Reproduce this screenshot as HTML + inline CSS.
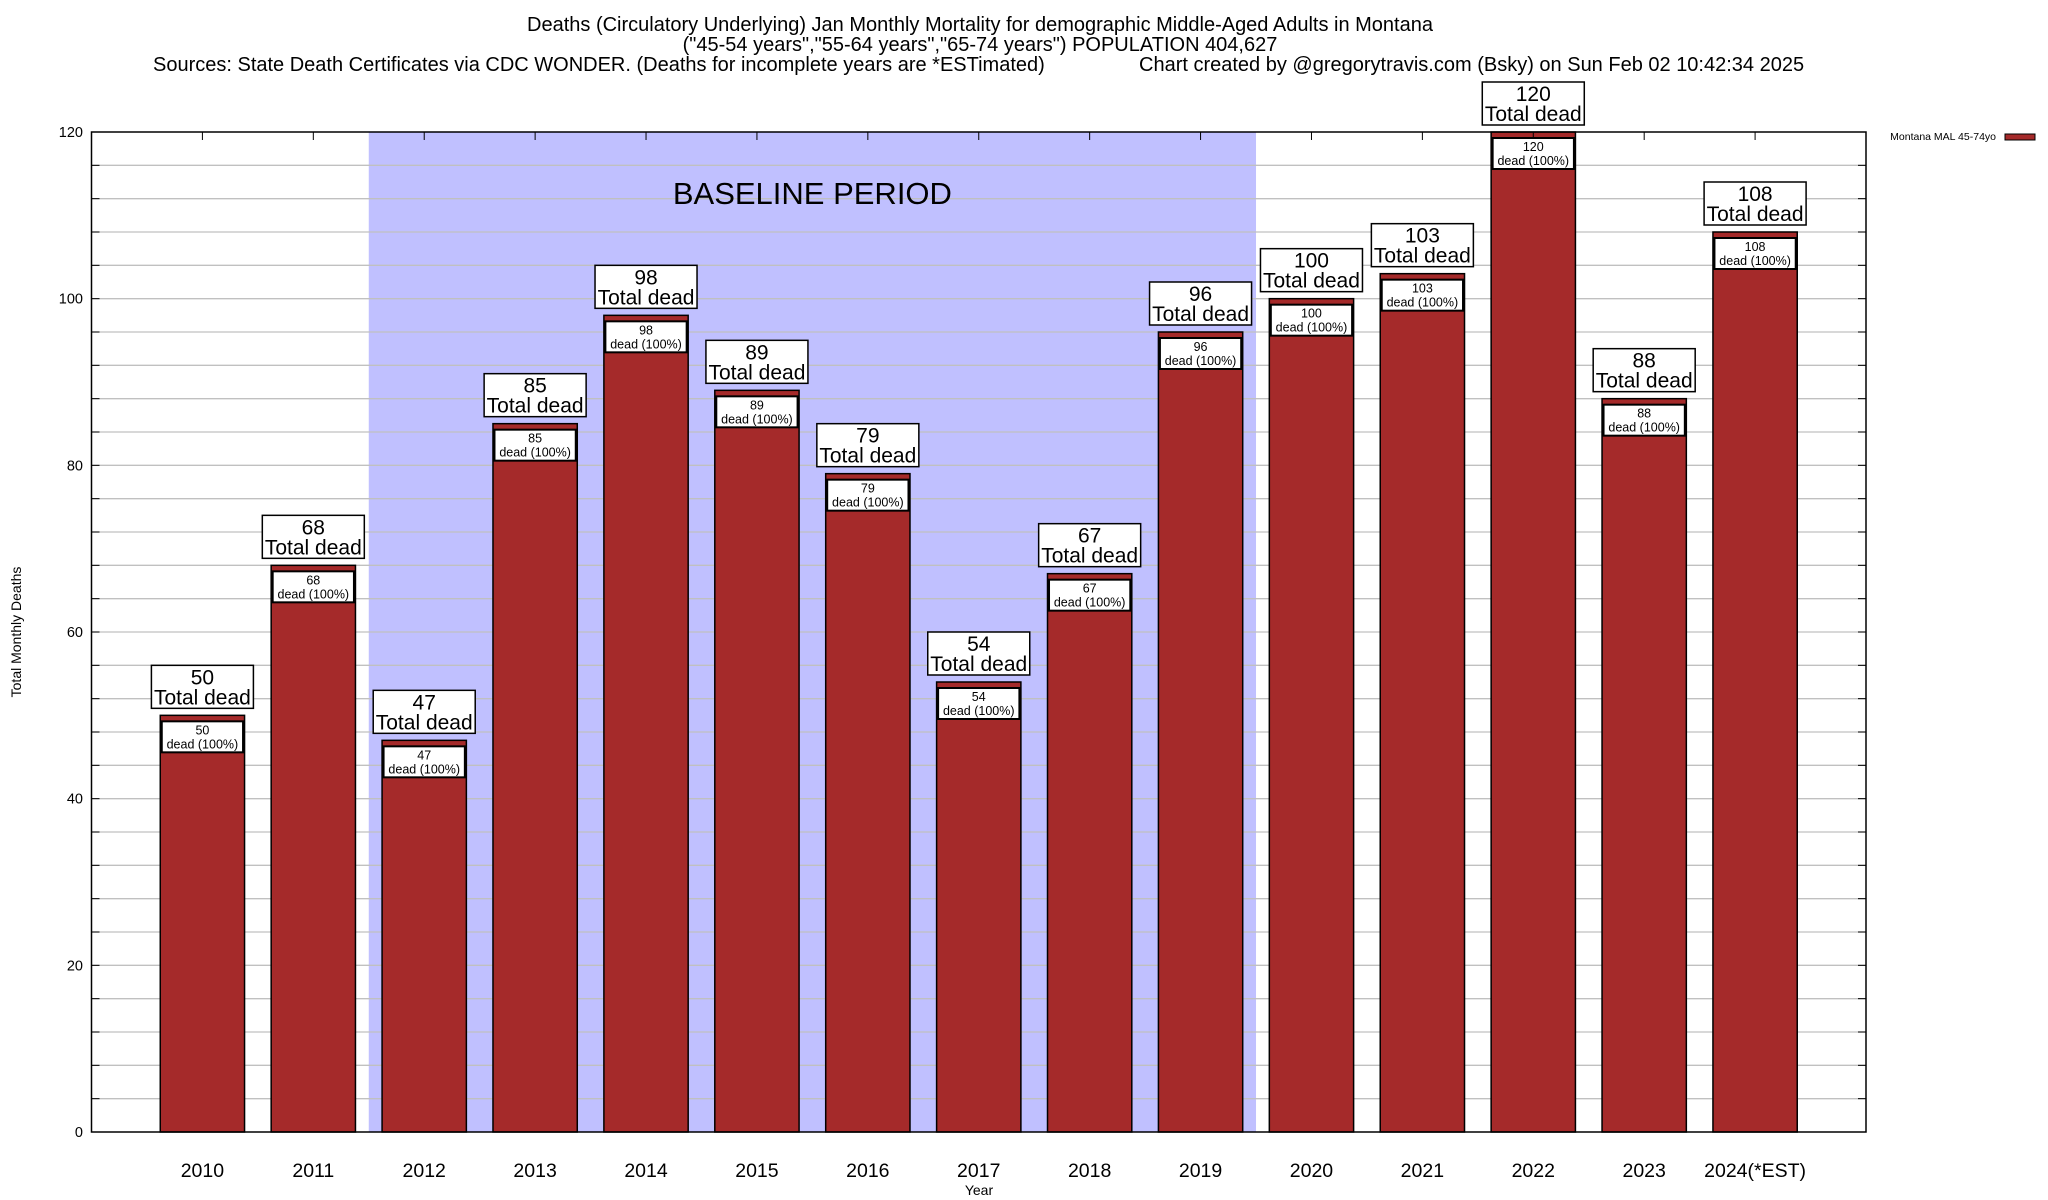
<!DOCTYPE html>
<html><head><meta charset="utf-8"><style>
html,body{margin:0;padding:0;background:#fff}
svg{display:block;font-family:"Liberation Sans",Arial,sans-serif}
</style></head><body>
<svg id="chart" width="2048" height="1200" viewBox="0 0 2048 1200">
<g font-size="20" text-anchor="middle">
<text x="980" y="31">Deaths (Circulatory Underlying) Jan Monthly Mortality for demographic Middle-Aged Adults in Montana</text>
<text x="980" y="51">("45-54 years","55-64 years","65-74 years") POPULATION 404,627</text>
<text x="153" y="71" text-anchor="start">Sources: State Death Certificates via CDC WONDER. (Deaths for incomplete years are *ESTimated)</text>
<text x="1139" y="71" text-anchor="start">Chart created by @gregorytravis.com (Bsky) on Sun Feb 02 10:42:34 2025</text>
</g>
<g id="plot"></g>
<g>
<text x="1996" y="140" font-size="10.5" text-anchor="end">Montana MAL 45-74yo</text>
<rect x="2005" y="134" width="30" height="6" fill="#a52a2a" stroke="#000" stroke-width="1"/>
</g>
</svg>
<script>
const categories = ["2010","2011","2012","2013","2014","2015","2016","2017","2018","2019","2020","2021","2022","2023","2024(*EST)"];
const values = [50,68,47,85,98,89,79,54,67,96,100,103,120,88,108];
const yTicks = [0,20,40,60,80,100,120];
const baselineRange = [1.5, 9.5];

const NS = "http://www.w3.org/2000/svg";
const L = 91.5, R = 1866, T = 132, B = 1132;
const yMax = 120;
const xMin = -1, xMax = 15;
const xs = i => L + (i - xMin) * (R - L) / (xMax - xMin);
const ys = v => B - v * (B - T) / yMax;
const unit = (R - L) / (xMax - xMin);
const plot = document.getElementById('plot');
function mk(tag, attrs, parent) {
  const e = document.createElementNS(NS, tag);
  for (const k in attrs) e.setAttribute(k, attrs[k]);
  (parent || plot).appendChild(e);
  return e;
}
const bl = mk('rect', {x: xs(baselineRange[0]), y: T, width: xs(baselineRange[1]) - xs(baselineRange[0]), height: B - T, fill: '#c0c0ff'});


for (let v = 4; v < yMax; v += 4) {
  const g = mk('line', {x1: L, x2: R, y1: ys(v), y2: ys(v), stroke: '#c0c0c0', 'stroke-width': 1.3});
  
  
  const t1 = mk('line', {x1: L, x2: L + 8, y1: ys(v), y2: ys(v), stroke: '#000'});
  
  
  const t2 = mk('line', {x1: R - 8, x2: R, y1: ys(v), y2: ys(v), stroke: '#000'});
  
  
}
const bt = mk('text', {x: (xs(baselineRange[0]) + xs(baselineRange[1])) / 2, y: 204, 'font-size': 31, 'text-anchor': 'middle'});
bt.textContent = 'BASELINE PERIOD';


yTicks.forEach(v => {
  const t = mk('text', {x: 83, y: ys(v) + 5, 'font-size': 14.5, 'text-anchor': 'end'});
  t.textContent = v;
  
  
});
const bw = unit * 0.76;
categories.forEach((c, i) => {
  const cx = xs(i), v = values[i], top = ys(v);
  const g = mk('g', {});
  
  
  mk('rect', {x: cx - bw / 2, y: top, width: bw, height: B - top, fill: '#a52a2a', stroke: '#000', 'stroke-width': 1.5}, g);
  const tk = mk('line', {x1: cx, x2: cx, y1: T, y2: T + 8, stroke: '#000'});
  
  
  const ib = mk('g', {});
  
  
  mk('rect', {x: cx - bw / 2 + 1.5, y: top + 6, width: bw - 3, height: 31, fill: '#fff', stroke: '#000', 'stroke-width': 2}, ib);
  const it1 = mk('text', {x: cx, y: top + 19, 'font-size': 12.5, 'text-anchor': 'middle'}, ib);
  it1.textContent = v;
  const it2 = mk('text', {x: cx, y: top + 33, 'font-size': 12.5, 'text-anchor': 'middle'}, ib);
  it2.textContent = 'dead (100%)';
  const ob = mk('g', {});
  
  
  mk('rect', {x: cx - 51, y: top - 50, width: 102, height: 43, fill: '#fff', stroke: '#000', 'stroke-width': 1.5}, ob);
  const o1 = mk('text', {x: cx, y: top - 31, 'font-size': 21, 'text-anchor': 'middle'}, ob);
  o1.textContent = v;
  const o2 = mk('text', {x: cx, y: top - 11, 'font-size': 21, 'text-anchor': 'middle'}, ob);
  o2.textContent = 'Total dead';
  const xl = mk('text', {x: cx, y: 1177, 'font-size': 19.5, 'text-anchor': 'middle'});
  xl.textContent = c;
  
  
});
const frame = mk('rect', {x: L, y: T, width: R - L, height: B - T, fill: 'none', stroke: '#000', 'stroke-width': 1.5});


const xt = mk('text', {x: 979, y: 1195, 'font-size': 14, 'text-anchor': 'middle'});
xt.textContent = 'Year';


const yt = mk('text', {x: 0, y: 0, 'font-size': 14, 'text-anchor': 'middle', transform: 'translate(21,632) rotate(-90)'});
yt.textContent = 'Total Monthly Deaths';


</script>
</body></html>
